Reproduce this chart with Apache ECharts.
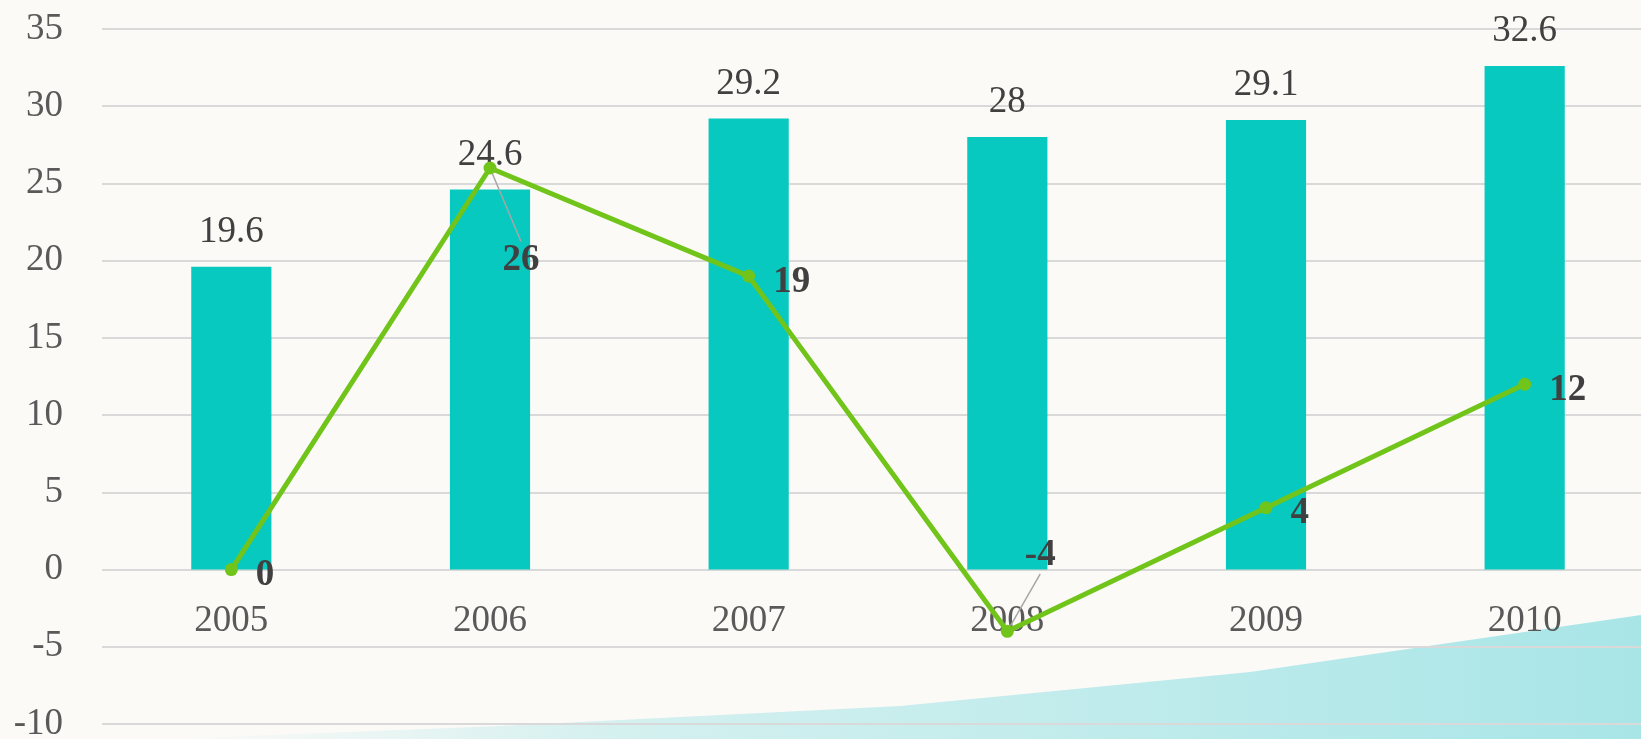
<!DOCTYPE html>
<html>
<head>
<meta charset="utf-8">
<script src="https://cdn.jsdelivr.net/npm/echarts@6/dist/echarts.min.js"></script>
<style>
html,body{margin:0;padding:0;background:#fcfaf7;}
#c{width:1641px;height:739px;}
</style>
</head>
<body>
<div id="c"></div>
<script>
var categories = ['2005','2006','2007','2008','2009','2010'];
var barValues = [19.6, 24.6, 29.2, 28, 29.1, 32.6];
var lineValues = [0, 26, 19, -4, 4, 12];
var yMin = -10, yMax = 35, yStep = 5;

var FONT = '"Liberation Serif", "DejaVu Serif", serif';
var FS = 37;
var W = 1641, H = 739;
var GRID = { left: 102, right: -13, top: 29, bottom: 15 };
var gridH = H - GRID.top - GRID.bottom;
// put the category axis on the zero line of the value axis
var zeroOffset = -(0 - yMin) / (yMax - yMin) * gridH;

var guided = { 1: true, 3: true };
var lineData = lineValues.map(function (v, i) {
  return { value: v, labelLine: { show: !!guided[i] } };
});

var chart = echarts.init(document.getElementById('c'));
chart.setOption({
  backgroundColor: '#fcfaf7',
  animation: false,
  graphic: [{
    type: 'polygon',
    z: -10,
    silent: true,
    shape: { points: [[170,739],[500,726],[900,706],[1250,672],[1641,615],[1641,739]] },
    style: {
      fill: new echarts.graphic.LinearGradient(0, 0, 1, 0, [
        { offset: 0, color: 'rgba(110,215,220,0.0)' },
        { offset: 0.3, color: 'rgba(110,215,220,0.28)' },
        { offset: 1, color: 'rgba(100,212,218,0.55)' }
      ])
    }
  }],
  grid: { left: GRID.left, right: GRID.right, top: GRID.top, bottom: GRID.bottom, containLabel: false, outerBoundsMode: 'none' },
  xAxis: {
    type: 'category',
    data: categories,
    offset: zeroOffset,
    axisLine: { show: false, onZero: false },
    axisTick: { show: false },
    axisLabel: { color: '#595959', fontFamily: FONT, fontSize: FS, margin: 33 }
  },
  yAxis: {
    type: 'value',
    min: yMin, max: yMax, interval: yStep,
    axisLine: { show: false },
    axisTick: { show: false },
    axisLabel: { color: '#595959', fontFamily: FONT, fontSize: FS, margin: 39 },
    splitLine: { lineStyle: { color: '#d9d9d9', width: 2 } }
  },
  series: [{
    type: 'bar',
    data: barValues,
    barWidth: '31%',
    itemStyle: { color: '#08c9c0' },
    label: { show: true, position: 'top', distance: 16, color: '#404040', fontFamily: FONT, fontSize: FS }
  }, {
    type: 'line',
    data: lineData,
    symbol: 'circle',
    symbolSize: 13,
    lineStyle: { color: '#71c41a', width: 5 },
    itemStyle: { color: '#71c41a' },
    z: 5,
    label: { show: true, position: 'right', distance: 18, color: '#404040', fontFamily: FONT, fontSize: FS, fontWeight: 'bold' },
    labelLine: { lineStyle: { color: '#a6a6a6', width: 1.5 } },
    labelLayout: function (p) {
      if (p.dataIndex === 1) return { dx: -12, dy: 92 };
      if (p.dataIndex === 3) return { dx: -7, dy: -76 };
      return { dy: 6 };
    }
  }]
});
</script>
</body>
</html>
